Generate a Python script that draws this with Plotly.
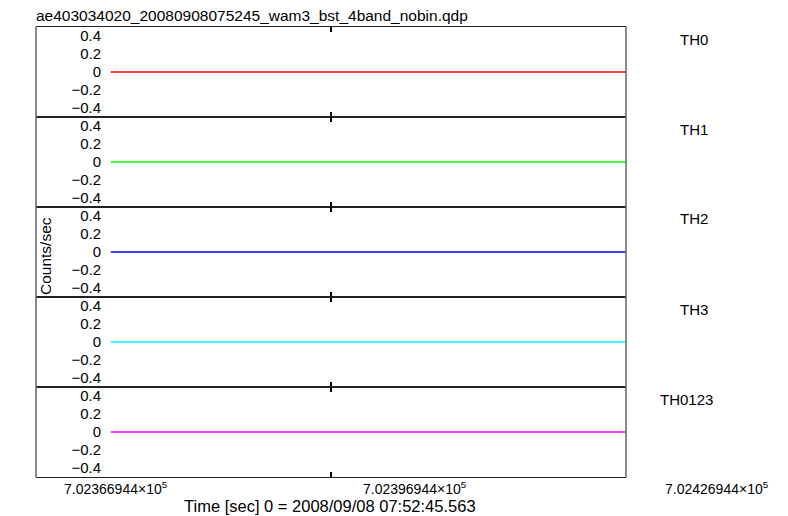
import plotly.graph_objects as go

# The page body has an 8px margin, so figure pixel = reference pixel - 8
OFF = 8
W, H = 788 - OFF, 516 - OFF
title = "ae403034020_20080908075245_wam3_bst_4band_nobin.qdp"
bands = ["TH0", "TH1", "TH2", "TH3", "TH0123"]
colors = ["#ff0000", "#00ff00", "#0000ff", "#00ffff", "#ff00ff"]
time_sec = [7.6, 60.0]
rates = {b: [0.0, 0.0] for b in bands}
x_range = [0, 60]
x_tickvals = [0, 30, 60]
x_ticklabels = ["7.02366944×10<sup>5</sup>", "7.02396944×10<sup>5</sup>", "7.02426944×10<sup>5</sup>"]
x_label_px = [116, 415, 717]
y_tickvals = [-0.4, -0.2, 0, 0.2, 0.4]
y_ticktext = ["\u22120.4", "\u22120.2", "0", "0.2", "0.4"]
band_label_px = [678, 678, 678, 678, 658]
xlabel = "Time [sec] 0 = 2008/09/08 07:52:45.563"
ylabel = "Counts/sec"

FONT = "Liberation Sans, Arial, Helvetica, sans-serif"


def px_x(px):
    return (px - OFF) / W


def px_y(py):
    return 1 - (py - OFF) / H


x0p, x1p = 36, 626
top0, ph = 27, 90

fig = go.Figure()
layout = dict(width=W, height=H, margin=dict(l=0, r=0, t=0, b=0),
              plot_bgcolor="white", paper_bgcolor="white", showlegend=False,
              font=dict(family=FONT, size=15, color="black"))
shapes = []
annotations = []
for i, b in enumerate(bands):
    n = "" if i == 0 else str(i + 1)
    top = top0 + ph * i
    bot = top + ph
    fig.add_trace(go.Scatter(x=time_sec, y=rates[b], mode="lines",
                             line=dict(color=colors[i], width=1.3),
                             xaxis="x" + n, yaxis="y" + n, hoverinfo="skip"))
    layout["xaxis" + n] = dict(domain=[px_x(x0p), px_x(x1p)], range=x_range,
                               anchor="y" + n, tickvals=x_tickvals, showticklabels=False,
                               ticks="inside", ticklen=5, tickwidth=2, tickcolor="black",
                               showline=True, linecolor="#222", linewidth=1, mirror="ticks",
                               showgrid=False, zeroline=False, fixedrange=True)
    layout["yaxis" + n] = dict(domain=[px_y(bot), px_y(top)], range=[-0.5, 0.5],
                               anchor="free", position=px_x(101),
                               tickvals=y_tickvals, ticktext=y_ticktext, ticks="",
                               showline=False, showgrid=False, zeroline=False,
                               tickfont=dict(size=15), fixedrange=True)
    for xp in (x0p, x1p):
        shapes.append(dict(type="line", xref="paper", yref="paper",
                           x0=px_x(xp), x1=px_x(xp), y0=px_y(bot), y1=px_y(top),
                           line=dict(color="#666", width=1.5)))
    annotations.append(dict(text=b, xref="paper", yref="paper",
                            x=px_x(band_label_px[i]), y=px_y(top + 12),
                            xanchor="left", yanchor="middle", showarrow=False,
                            font=dict(size=15)))

for lbl, px in zip(x_ticklabels, x_label_px):
    annotations.append(dict(text=lbl, xref="paper", yref="paper", x=px_x(px), y=px_y(488),
                            xanchor="center", yanchor="middle", showarrow=False,
                            font=dict(size=14)))
annotations.append(dict(text=xlabel, xref="paper", yref="paper", x=px_x(330), y=px_y(506),
                        xanchor="center", yanchor="middle", showarrow=False, font=dict(size=16.5)))
annotations.append(dict(text=ylabel, xref="paper", yref="paper", x=px_x(45), y=px_y(256),
                        xanchor="center", yanchor="middle", showarrow=False, textangle=-90,
                        font=dict(size=15.5)))
annotations.append(dict(text=title, xref="paper", yref="paper", x=px_x(35), y=px_y(16),
                        xanchor="left", yanchor="middle", showarrow=False, borderpad=0,
                        font=dict(size=15.5)))
layout["shapes"] = shapes
layout["annotations"] = annotations
fig.update_layout(**layout)
fig.write_html("out.html")
